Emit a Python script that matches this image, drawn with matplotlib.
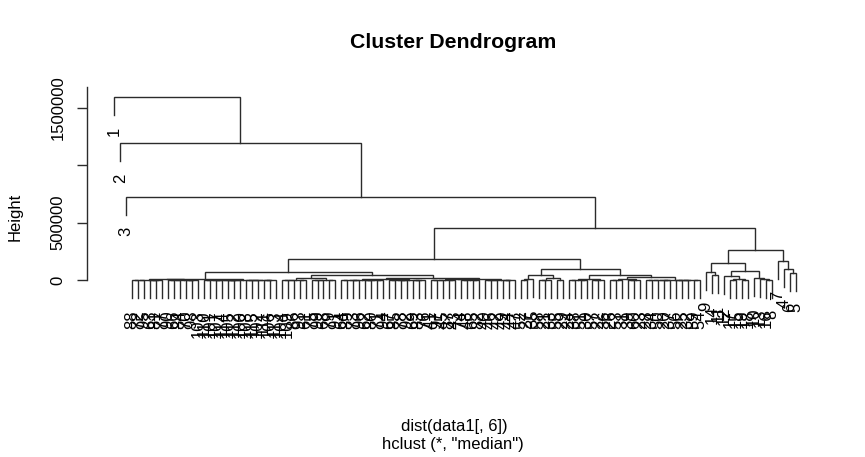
import matplotlib
matplotlib.use('Agg')
import matplotlib.pyplot as plt

plt.rcParams['font.family'] = ['Liberation Sans', 'DejaVu Sans']

# hclust(dist(data1[, 6]), "median") -- merge heights
# upper merges: name -> (height, left child, right child)
merges = {
    'root': (1597000, '1', 'A'),
    'A': (1195000, '2', 'B'),
    'B': (724000, '3', 'C'),
    'C': (454000, 'D', 'E'),
    'D': (183000, 'D1', 'D2'),
    'D1': (70000, 'd1a', 'D1b'),
    'd1a': (9000, 'd1a_1', 'd1a_2'),
    'D1b': (43600, 'd1b1', 'D1b2'),
    'D1b2': (20000, 'x1', 'Y'),
    'Y': (12000, 'y1', 'y2'),
    'D2': (96000, 'D2a', 'D2b'),
    'D2a': (44000, 'd2a1', 'd2a2'),
    'D2b': (44000, 'd2b1', 'D2b2'),
    'D2b2': (30000, 'd2b2a', 'd2b2b'),
    'E': (262000, 'EL', 'ER'),
    'EL': (149000, 'ELL', 'ELR'),
    'ELL': (73000, '9', 'e_ll'),
    'ELR': (75000, 'ELRa', 'ELRb'),
    'ELRa': (35000, '12', 'ELRa2'),
    'ELRa2': (10000, 'e_ra1', 'e_ra2'),
    'ELRb': (20000, '10', 'ELRb2'),
    'ELRb2': (10000, '13', 'e_rb'),
    'ER': (167000, '7', 'ER2'),
    'ER2': (96000, '4', 'e_r'),
}

# bottom blocks of (nearly) tied observations: name -> (height, labels)
blocks = {
    'd1a_1': (5000, ['88', '72', '95', '63', '81', '77', '90', '66', '84', '70', '98', '103']),
    'd1a_2': (3000, ['110', '101', '107', '114', '105', '112', '100', '108', '115', '102', '111', '106', '113']),
    'd1b1': (17000, ['104', '109', '86', '93', '61', '75', '99', '68', '79', '91']),
    'x1': (8000, ['64', '89', '73', '96', '62', '80', '71', '94', '67', '85', '78', '92', '69', '83', '76']),
    'y1': (9000, ['41', '97', '45', '87', '43', '74', '48', '65', '82']),
    'y2': (0, ['40', '46', '42', '49', '44', '47']),
    'd2a1': (9000, ['52', '27', '35']),
    'd2a2': (18000, ['58', '21', '33', '55', '29']),
    'd2b1': (13000, ['24', '38', '51', '30', '57', '22', '36']),
    'd2b2a': (12000, ['26', '53', '31', '39', '60', '23']),
    'd2b2b': (2000, ['28', '34', '50', '20', '37', '56', '25', '32', '59', '54']),
    'e_ll': (44000, ['14', '11']),
    'e_ra1': (3000, ['17', '15']),
    'e_ra2': (3000, ['19', '18']),
    'e_rb': (3000, ['16', '8']),
    'e_r': (61000, ['6', '5']),
}

hang = 160000
y_ticks = [0, 500000, 1000000, 1500000]
y_ticklabels = ['0', '500000', '', '1500000']

W, H = 865, 457
fig = plt.figure(figsize=(W / 100, H / 100), dpi=100)
# plot region in pixels: x 87..823, y 87..347
ax = fig.add_axes([87 / W, (H - 347) / H, 736 / W, 260 / H])

line_kw = dict(color='#2b2b2b', lw=1.0, solid_joinstyle='miter')
leaves = []


def place_leaf(lab):
    leaves.append(lab)
    return ('leaf', len(leaves), lab)


def place_group(labs, h):
    if len(labs) == 1:
        return place_leaf(labs[0])
    m = (len(labs) + 1) // 2
    return join(h, place_group(labs[:m], 0), place_group(labs[m:], 0))


def place(name):
    if name in merges:
        h, a, b = merges[name]
        return join(h, place(a), place(b))
    if name in blocks:
        h, labs = blocks[name]
        return place_group(labs, h)
    return place_leaf(name)


def join(h, left, right):
    xs, bottoms = [], []
    for kind, x, val in (left, right):
        if kind == 'leaf':
            bottom = h - hang
            ax.annotate(val, (x, bottom), xytext=(0, -8.5), textcoords='offset points',
                        rotation=90, ha='center', va='top', fontsize=12)
        else:
            bottom = val
        xs.append(x)
        bottoms.append(bottom)
    ax.plot([xs[0], xs[0], xs[1], xs[1]], [bottoms[0], h, h, bottoms[1]], **line_kw)
    return ('node', (xs[0] + xs[1]) / 2, h)


place('root')
n = len(leaves)
pad = 0.04 * (n - 1)
ax.set_xlim(1 - pad, n + pad)
ax.set_ylim(-584600, 1684000)

for s in ['top', 'right', 'bottom']:
    ax.spines[s].set_visible(False)
ax.spines['left'].set_bounds(0, 1684000)
ax.spines['left'].set_linewidth(1.0)
ax.spines['left'].set_color('#2b2b2b')
ax.set_xticks([])
ax.set_yticks(y_ticks)
ax.set_yticklabels(y_ticklabels, fontsize=12)
ax.tick_params(axis='y', length=7.4, width=1.0, color='#2b2b2b', pad=8)
for lbl in ax.get_yticklabels():
    lbl.set_rotation(90)
    lbl.set_va('center')
    lbl.set_ha('right')

fig.text(453.5 / W, 1 - 43 / H, 'Cluster Dendrogram', ha='center', va='center',
         fontsize=15.3, fontweight='bold')
fig.text(15 / W, 1 - 217 / H, 'Height', rotation=90, ha='center', va='center', fontsize=12)
fig.text(454 / W, 1 - 426 / H, 'dist(data1[, 6])', ha='center', va='center', fontsize=12)
fig.text(453 / W, 1 - 445 / H, 'hclust (*, "median")', ha='center', va='center', fontsize=12)

fig.savefig('out.png', dpi=100)
